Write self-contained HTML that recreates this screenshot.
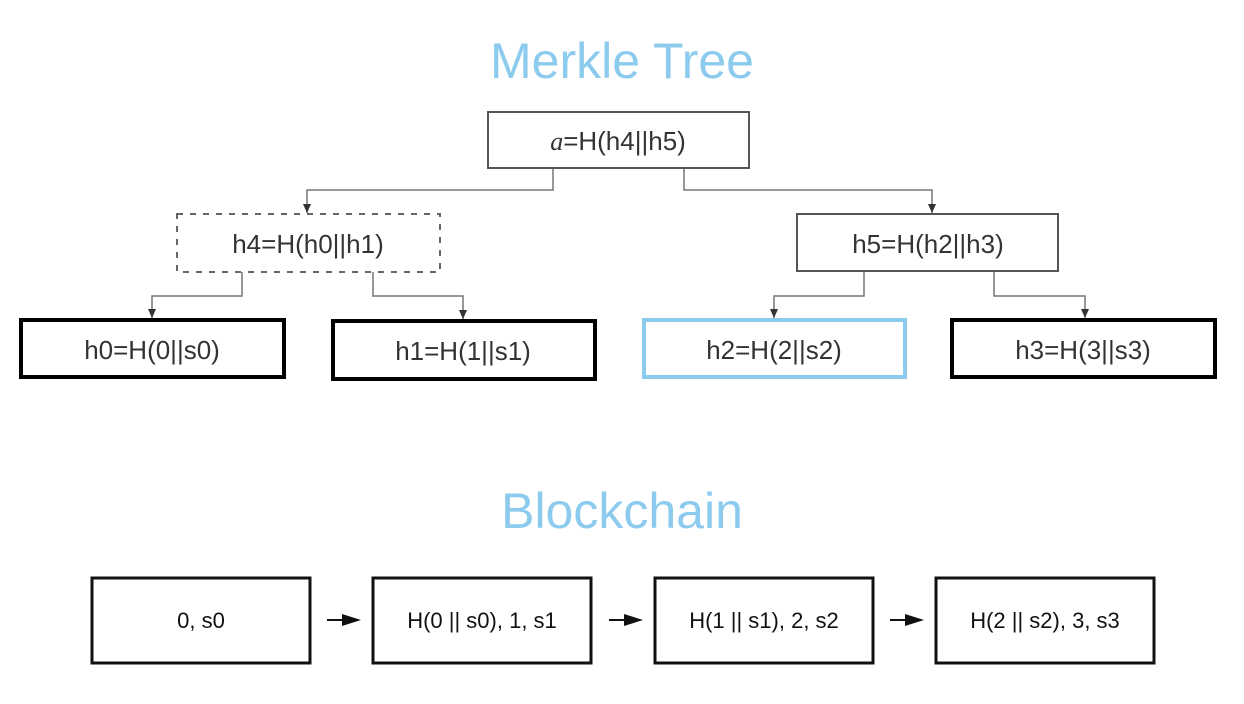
<!DOCTYPE html>
<html><head><meta charset="utf-8"><style>
html,body{margin:0;padding:0;background:#fff;}
svg{display:block;}
.t{font-family:"Liberation Sans","DejaVu Sans",sans-serif;}
</style></head><body>
<svg width="1244" height="704" viewBox="0 0 1244 704">
<defs>
<marker id="ar" markerWidth="9" markerHeight="8" refX="9" refY="4" orient="auto" markerUnits="userSpaceOnUse"><path d="M0,0 L9,4 L0,8 Z" fill="#333"/></marker>
</defs>
<text class="t" x="622" y="78" text-anchor="middle" font-size="50" fill="#8ccbee">Merkle Tree</text>
<text class="t" x="622" y="528" text-anchor="middle" font-size="50" fill="#8ccbee">Blockchain</text>

<g fill="none" stroke="#777" stroke-width="1.5">
<path d="M553,168 V190 H307 V213" marker-end="url(#ar)"/>
<path d="M684,168 V190 H932 V213" marker-end="url(#ar)"/>
<path d="M242,272 V296 H152 V318" marker-end="url(#ar)"/>
<path d="M373,272 V296 H463 V319" marker-end="url(#ar)"/>
<path d="M864,271 V296 H774 V318" marker-end="url(#ar)"/>
<path d="M994,271 V296 H1085 V318" marker-end="url(#ar)"/>
</g>

<g>
<rect x="488" y="112" width="261" height="56" fill="#fff" stroke="#555" stroke-width="2"/>
<text class="t" x="618" y="150" text-anchor="middle" font-size="26" fill="#333"><tspan font-style="italic" font-family="Liberation Serif,serif">a</tspan>=H(h4||h5)</text>
</g>
<g>
<rect x="177" y="214" width="263" height="58" fill="#fff" stroke="#666" stroke-width="2" stroke-dasharray="6,7"/>
<text class="t" x="308" y="253" text-anchor="middle" font-size="26" fill="#333">h4=H(h0||h1)</text>
</g>
<g>
<rect x="797" y="214" width="261" height="57" fill="#fff" stroke="#555" stroke-width="2"/>
<text class="t" x="928" y="253" text-anchor="middle" font-size="26" fill="#333">h5=H(h2||h3)</text>
</g>
<g>
<rect x="21" y="320" width="263" height="57" fill="#fff" stroke="#000" stroke-width="4"/>
<text class="t" x="152" y="359" text-anchor="middle" font-size="26" fill="#333">h0=H(0||s0)</text>
</g>
<g>
<rect x="333" y="321" width="262" height="58" fill="#fff" stroke="#000" stroke-width="4"/>
<text class="t" x="463" y="360" text-anchor="middle" font-size="26" fill="#333">h1=H(1||s1)</text>
</g>
<g>
<rect x="644" y="320" width="261" height="57" fill="#fff" stroke="#8ccbee" stroke-width="4"/>
<text class="t" x="774" y="359" text-anchor="middle" font-size="26" fill="#333">h2=H(2||s2)</text>
</g>
<g>
<rect x="952" y="320" width="263" height="57" fill="#fff" stroke="#000" stroke-width="4"/>
<text class="t" x="1083" y="359" text-anchor="middle" font-size="26" fill="#333">h3=H(3||s3)</text>
</g>

<g>
<rect x="92" y="578" width="218" height="85" fill="#fff" stroke="#111" stroke-width="3"/>
<text class="t" x="201" y="628" text-anchor="middle" font-size="22" fill="#111">0, s0</text>
</g>
<g>
<rect x="373" y="578" width="218" height="85" fill="#fff" stroke="#111" stroke-width="3"/>
<text class="t" x="482" y="628" text-anchor="middle" font-size="22" fill="#111">H(0 || s0), 1, s1</text>
</g>
<g>
<rect x="655" y="578" width="218" height="85" fill="#fff" stroke="#111" stroke-width="3"/>
<text class="t" x="764" y="628" text-anchor="middle" font-size="22" fill="#111">H(1 || s1), 2, s2</text>
</g>
<g>
<rect x="936" y="578" width="218" height="85" fill="#fff" stroke="#111" stroke-width="3"/>
<text class="t" x="1045" y="628" text-anchor="middle" font-size="22" fill="#111">H(2 || s2), 3, s3</text>
</g>
<g fill="#111" stroke="#111" stroke-width="2">
<line x1="327" y1="620" x2="345" y2="620"/><path d="M342,614 L361,620 L342,626 Z" stroke="none"/>
<line x1="609" y1="620" x2="627" y2="620"/><path d="M624,614 L643,620 L624,626 Z" stroke="none"/>
<line x1="890" y1="620" x2="908" y2="620"/><path d="M905,614 L924,620 L905,626 Z" stroke="none"/>
</g>
</svg>
</body></html>
